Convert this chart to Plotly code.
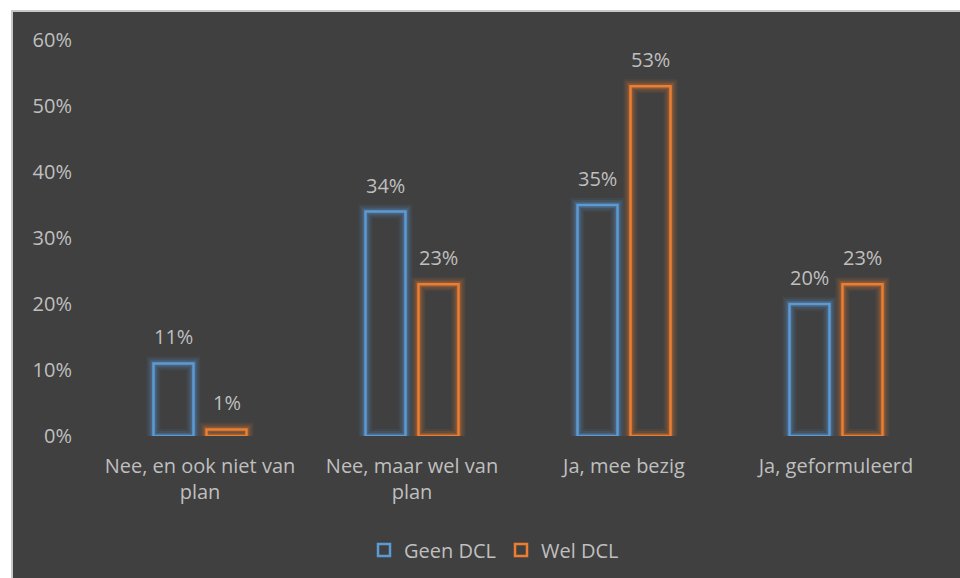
import plotly.graph_objects as go

categories = ["Nee, en ook niet van<br>plan", "Nee, maar wel van<br>plan", "Ja, mee bezig", "Ja, geformuleerd"]
geen_dcl = [0.11, 0.34, 0.35, 0.20]
wel_dcl = [0.01, 0.23, 0.53, 0.23]
series_names = ["Geen DCL", "Wel DCL"]
colors = ["#5B9BD5", "#ED7D31"]
glow_colors = ["rgba(91,155,213,{a})", "rgba(237,125,49,{a})"]

W, H = 960, 578
L, R, T = 94, 18, 40
B = H - 436
pw, ph = W - L - R, H - T - B

def px_x(p):
    return (p - L) / pw

def px_y(p):
    return (H - B - p) / ph

FONT = "Open Sans"
TXT = "#bfbfbf"
FS = 20

bar_w = 0.1887
offsets = [-0.125 - bar_w / 2, 0.125 - bar_w / 2]
series = [geen_dcl, wel_dcl]

fig = go.Figure()
# glow layers
for i, vals in enumerate(series):
    for lw, a in [(14, 0.08), (10, 0.13), (6, 0.25)]:
        fig.add_trace(go.Bar(
            x=categories, y=vals, width=bar_w, offset=offsets[i],
            marker=dict(color="rgba(0,0,0,0)", line=dict(color=glow_colors[i].format(a=a), width=lw)),
            showlegend=False, hoverinfo="skip"))
for i, vals in enumerate(series):
    fig.add_trace(go.Bar(
        x=categories, y=vals, width=bar_w, offset=offsets[i], name=series_names[i],
        marker=dict(color="rgba(0,0,0,0)", line=dict(color=colors[i], width=2.5))))
    for c, v in zip(categories, vals):
        fig.add_annotation(x=c, y=v, xref="x", yref="y", text=f"{round(v*100)}%",
                           showarrow=False, yanchor="bottom", yshift=11,
                           xshift=(-26.5 if i == 0 else 26.5),
                           font=dict(family=FONT, size=FS, color=TXT))

fig.add_shape(type="rect", xref="paper", yref="paper",
              x0=px_x(12), x1=px_x(975), y0=px_y(590), y1=px_y(11),
              fillcolor="#404040", line=dict(color="#c8c8c8", width=2), layer="below")

fig.update_layout(
    width=W, height=H, barmode="overlay",
    margin=dict(l=L, r=R, t=T, b=B, autoexpand=False),
    paper_bgcolor="white", plot_bgcolor="rgba(0,0,0,0)",
    font=dict(family=FONT, size=FS, color=TXT),
    showlegend=True,
    legend=dict(orientation="h", x=px_x(494), xanchor="center", y=px_y(550), yanchor="middle",
                font=dict(family=FONT, size=FS, color=TXT), bgcolor="rgba(0,0,0,0)"),
    xaxis=dict(showgrid=False, showline=False, zeroline=False, ticks="",
               tickfont=dict(family=FONT, size=FS, color=TXT), ticklabelstandoff=16),
    yaxis=dict(range=[0, 0.6], dtick=0.1, tickformat=".0%", showgrid=False, showline=False,
               zeroline=False, ticks="", ticklabelstandoff=21,
               tickfont=dict(family=FONT, size=FS, color=TXT)),
)

fig.write_html("out.html", config={"displayModeBar": False},
               post_script="document.body.style.margin='0';document.body.style.overflow='hidden';")
